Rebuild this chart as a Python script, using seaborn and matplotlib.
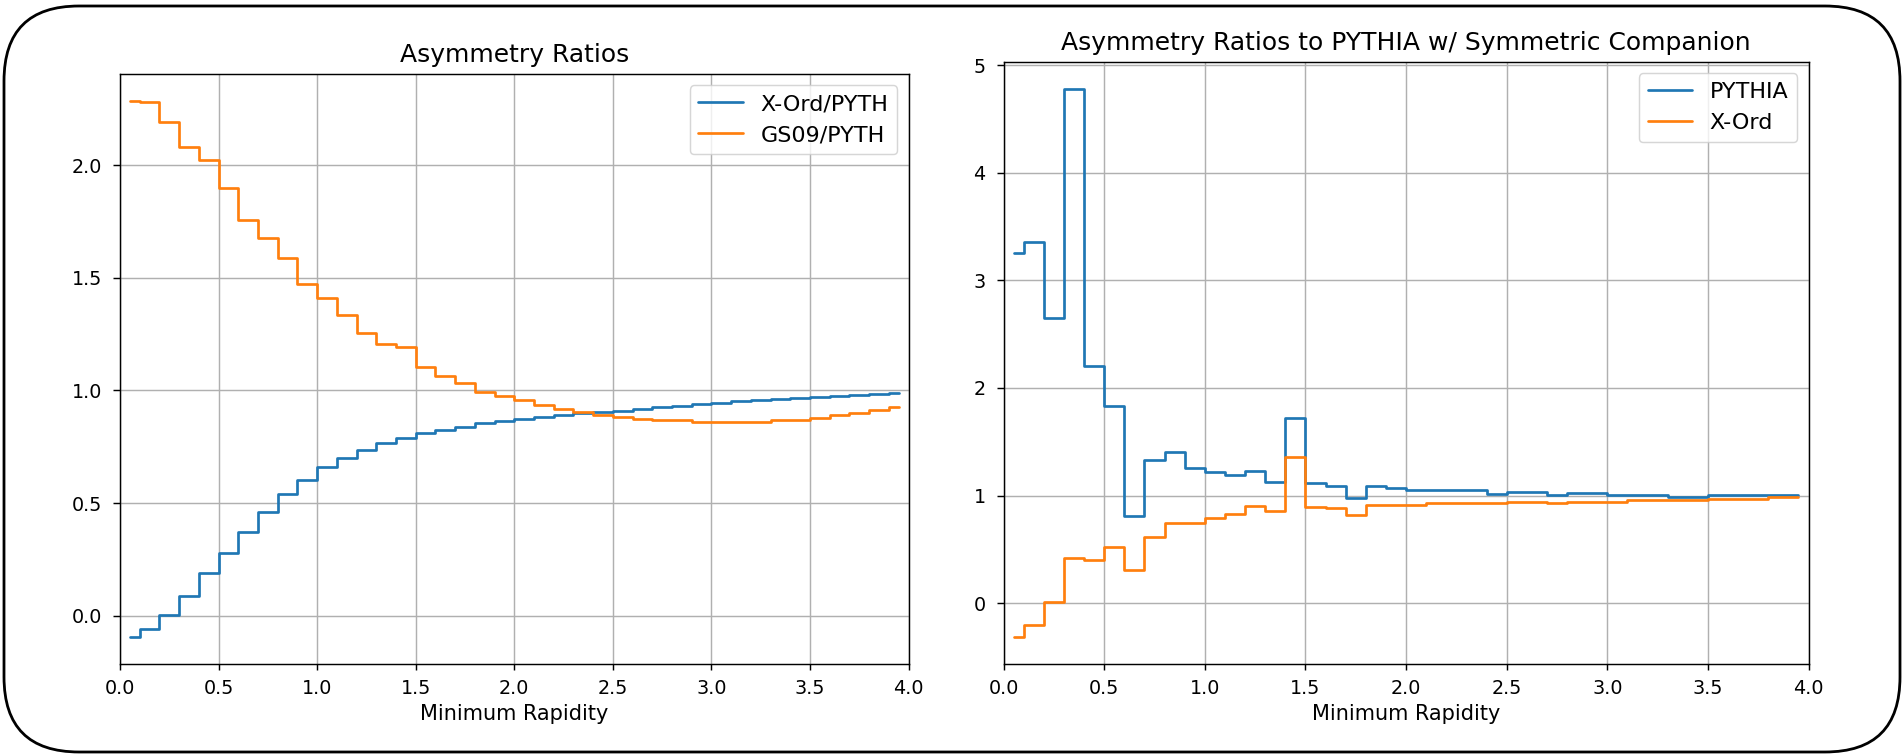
import numpy as np
import pandas as pd
import matplotlib
matplotlib.use("Agg")
import matplotlib.pyplot as plt
from matplotlib.patches import FancyBboxPatch
import seaborn as sns

# Bin centres in minimum rapidity (bins of width 0.1)
rapidity = [0.05, 0.15, 0.25, 0.35, 0.45, 0.55, 0.65, 0.75, 0.85, 0.95,
            1.05, 1.15, 1.25, 1.35, 1.45, 1.55, 1.65, 1.75, 1.85, 1.95,
            2.05, 2.15, 2.25, 2.35, 2.45, 2.55, 2.65, 2.75, 2.85, 2.95,
            3.05, 3.15, 3.25, 3.35, 3.45, 3.55, 3.65, 3.75, 3.85, 3.95]

# Left panel: asymmetry ratios
xord_over_pyth = [-0.096, -0.060, 0.002, 0.088, 0.188, 0.279, 0.373, 0.460, 0.538, 0.601,
                  0.658, 0.701, 0.735, 0.766, 0.791, 0.812, 0.826, 0.840, 0.854, 0.863,
                  0.875, 0.883, 0.891, 0.898, 0.903, 0.911, 0.918, 0.925, 0.931, 0.938,
                  0.946, 0.953, 0.957, 0.963, 0.967, 0.972, 0.976, 0.980, 0.985, 0.991]
gs09_over_pyth = [2.287, 2.280, 2.194, 2.080, 2.026, 1.899, 1.757, 1.679, 1.587, 1.473,
                  1.412, 1.334, 1.255, 1.205, 1.192, 1.106, 1.063, 1.033, 0.995, 0.977,
                  0.956, 0.935, 0.918, 0.903, 0.891, 0.883, 0.875, 0.868, 0.868, 0.862,
                  0.862, 0.862, 0.862, 0.867, 0.868, 0.877, 0.889, 0.899, 0.912, 0.926]

# Right panel: ratios to PYTHIA with symmetric companion
pythia_sym = [3.257, 3.356, 2.653, 4.774, 2.206, 1.832, 0.810, 1.330, 1.405, 1.253,
              1.223, 1.190, 1.225, 1.130, 1.718, 1.114, 1.085, 0.975, 1.085, 1.068,
              1.052, 1.052, 1.052, 1.052, 1.018, 1.037, 1.037, 1.007, 1.021, 1.021,
              1.007, 1.007, 1.007, 0.986, 0.986, 1.005, 1.005, 1.005, 1.005, 1.005]
xord_sym = [-0.310, -0.204, 0.010, 0.419, 0.402, 0.525, 0.312, 0.615, 0.748, 0.748,
            0.795, 0.825, 0.900, 0.856, 1.356, 0.895, 0.882, 0.820, 0.915, 0.915,
            0.915, 0.932, 0.932, 0.932, 0.932, 0.943, 0.943, 0.928, 0.943, 0.943,
            0.943, 0.957, 0.957, 0.957, 0.957, 0.970, 0.970, 0.970, 0.990, 0.990]

left_series = [("X-Ord/PYTH", xord_over_pyth), ("GS09/PYTH", gs09_over_pyth)]
right_series = [("PYTHIA", pythia_sym), ("X-Ord", xord_sym)]
colors = ["#1f77b4", "#ff7f0e"]

sns.set_theme(style="ticks")
S = 1.3  # scale factor for lines
plt.rcParams.update({
    "font.family": ["DejaVu Sans"],
    "axes.edgecolor": "black",
    "axes.linewidth": 0.8 * S,
    "xtick.color": "black",
    "ytick.color": "black",
    "xtick.labelsize": 13.8,
    "ytick.labelsize": 13.8,
    "xtick.major.size": 4.5,
    "ytick.major.size": 4.8,
    "xtick.major.width": 0.8 * S,
    "ytick.major.width": 0.8 * S,
    "xtick.major.pad": 6.0,
    "ytick.major.pad": 8.0,
    "axes.labelsize": 15,
    "axes.labelpad": 4.5,
    "axes.titlesize": 18,
    "axes.titlepad": 8.5,
    "legend.fontsize": 16,
    "text.color": "black",
    "axes.labelcolor": "black",
})

W, H = 1903, 754
fig = plt.figure(figsize=(W / 100, H / 100), dpi=100)
fig.patch.set_facecolor("white")

ax1 = fig.add_axes([120 / W, (H - 664) / H, 788.5 / W, 590 / H])
ax2 = fig.add_axes([1003.5 / W, (H - 664) / H, 805 / W, 602 / H])


def draw_panel(ax, series, title):
    for (name, vals), col in zip(series, colors):
        df = pd.DataFrame({"rapidity": rapidity, "ratio": vals})
        sns.lineplot(data=df, x="rapidity", y="ratio", ax=ax, color=col,
                     drawstyle="steps-mid", linewidth=1.5 * S, label=name)
    ax.set_xlim(0, 4)
    ax.set_xticks([0, 0.5, 1.0, 1.5, 2.0, 2.5, 3.0, 3.5, 4.0])
    ax.grid(True, color="#b0b0b0", linewidth=0.8 * S)
    ax.set_axisbelow(True)
    ax.set_title(title)
    ax.set_xlabel("Minimum Rapidity")
    ax.set_ylabel("")
    for sp in ax.spines.values():
        sp.set_visible(True)
        sp.set_color("black")
    leg = ax.legend(loc="upper right", frameon=True, fancybox=True,
                    framealpha=0.8, edgecolor="0.8")
    leg.get_frame().set_linewidth(0.8 * S)


draw_panel(ax1, left_series, "Asymmetry Ratios")
ax1.set_yticks([0.0, 0.5, 1.0, 1.5, 2.0])
draw_panel(ax2, right_series, "Asymmetry Ratios to PYTHIA w/ Symmetric Companion")
ax2.set_yticks([0, 1, 2, 3, 4, 5])

# Rounded frame around the whole figure
frame = FancyBboxPatch((4 / 100, 2 / 100), 1896 / 100, 746 / 100,
                       boxstyle="round,pad=0,rounding_size=0.75",
                       transform=fig.dpi_scale_trans, fill=False,
                       edgecolor="black", linewidth=2.0)
fig.patches.append(frame)

fig.savefig("out.png", dpi=100, facecolor="white")
